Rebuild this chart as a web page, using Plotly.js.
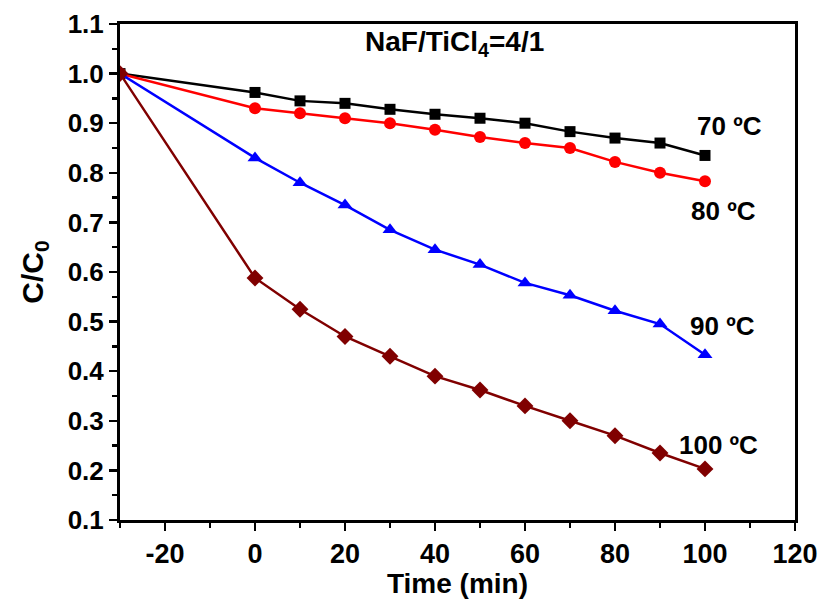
<!DOCTYPE html>
<html><head><meta charset="utf-8">
<script src="https://cdn.plot.ly/plotly-3.0.1.min.js"></script>
<style>html,body{margin:0;padding:0;background:#fff}</style>
</head><body>
<div id="chart" style="width:821px;height:599px"></div>
<script>
const time = [-30, 0, 10, 20, 30, 40, 50, 60, 70, 80, 90, 100];
const c70  = [1.0, 0.962, 0.945, 0.940, 0.928, 0.918, 0.910, 0.900, 0.883, 0.870, 0.860, 0.835];
const c80  = [1.0, 0.930, 0.920, 0.910, 0.900, 0.887, 0.872, 0.860, 0.850, 0.822, 0.800, 0.783];
const c90  = [1.0, 0.830, 0.780, 0.735, 0.685, 0.645, 0.615, 0.578, 0.553, 0.522, 0.495, 0.433];
const c100 = [1.0, 0.588, 0.525, 0.470, 0.430, 0.390, 0.362, 0.330, 0.300, 0.270, 0.235, 0.203];
const seriesNames = ['70 ºC', '80 ºC', '90 ºC', '100 ºC'];
const labelPos = [[105.5, 0.895], [104, 0.722], [103.8, 0.492], [103, 0.252]];
const xTickVals = [-20, 0, 20, 40, 60, 80, 100, 120];
const xTickText = ['-20', '0', '20', '40', '60', '80', '100', '120'];
const yTickVals = [0.1, 0.2, 0.3, 0.4, 0.5, 0.6, 0.7, 0.8, 0.9, 1.0, 1.1];
const yTickText = ['0.1', '0.2', '0.3', '0.4', '0.5', '0.6', '0.7', '0.8', '0.9', '1.0', '1.1'];

const F = 'Liberation Sans, Arial, sans-serif';
function tr(y, color, symbol, size, name) {
  return {x: time, y: y, mode: 'lines+markers', name: name,
    line: {color: color, width: 2.5},
    marker: {color: color, symbol: symbol, size: size}};
}
const data = [
  tr(c70, '#000000', 'square', 11, seriesNames[0]),
  tr(c80, '#ff0000', 'circle', 12, seriesNames[1]),
  tr(c90, '#0000ff', 'triangle-up', 13, seriesNames[2]),
  tr(c100, '#800000', 'diamond', 13, seriesNames[3])
];
const ann = seriesNames.map((n, i) => ({x: labelPos[i][0], y: labelPos[i][1], xref: 'x', yref: 'y',
  text: '<b>' + n + '</b>', showarrow: false, font: {family: F, size: 26, color: '#000'}}));
ann.push({x: 44.4, y: 1.061, xref: 'x', yref: 'y', text: '<b>NaF/TiCl<sub>4</sub>=4/1</b>',
  showarrow: false, font: {family: F, size: 28, color: '#000'}});

const bold = arr => arr.map(t => '<b>' + t + '</b>');
const layout = {
  width: 821, height: 599,
  margin: {l: 120, r: 26, t: 24, b: 79},
  paper_bgcolor: '#fff', plot_bgcolor: '#fff',
  showlegend: false,
  font: {family: F, color: '#000'},
  xaxis: {range: [-30, 120], tickmode: 'array', tickvals: xTickVals, ticktext: bold(xTickText),
    ticks: 'outside', ticklen: 8, tickwidth: 2.5,
    tickcolor: '#000', showline: true, linewidth: 3, linecolor: '#000', mirror: true,
    showgrid: false, zeroline: false,
    minor: {dtick: 10, tick0: -30, ticks: 'outside', ticklen: 5, tickwidth: 2.5, tickcolor: '#000', showgrid: false},
    tickfont: {family: F, size: 27, color: '#000'},
    title: {text: '<b>Time (min)</b>', font: {family: F, size: 28, color: '#000'}, standoff: 0}},
  yaxis: {range: [0.1, 1.1], tickmode: 'array', tickvals: yTickVals, ticktext: bold(yTickText),
    ticks: 'outside', ticklen: 8, tickwidth: 2.5,
    tickcolor: '#000', showline: true, linewidth: 3, linecolor: '#000', mirror: true,
    showgrid: false, zeroline: false,
    minor: {dtick: 0.05, tick0: 0.1, ticks: 'outside', ticklen: 5, tickwidth: 2.5, tickcolor: '#000', showgrid: false},
    tickfont: {family: F, size: 26, color: '#000'},
    title: {text: '<b>C/C<sub>0</sub></b>', font: {family: F, size: 30, color: '#000'}, standoff: 16}},
  annotations: ann
};
Plotly.newPlot('chart', data, layout, {displayModeBar: false, staticPlot: true});
</script>
</body></html>
